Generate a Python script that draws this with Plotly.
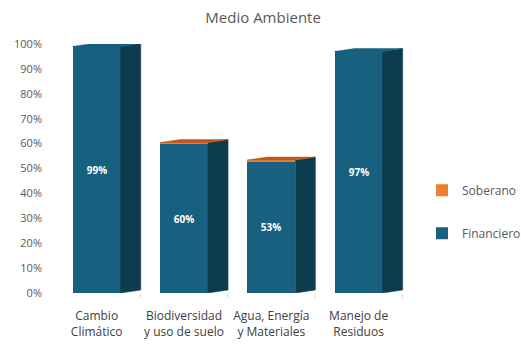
import plotly.graph_objects as go

categories = ["Cambio<br>Climático", "Biodiversidad<br>y uso de suelo", "Agua, Energía<br>y Materiales", "Manejo de<br>Residuos"]
financiero = [0.99, 0.60, 0.53, 0.97]
soberano = [0.0, 0.004, 0.004, 0.0]
y_ticks = [0, 0.1, 0.2, 0.3, 0.4, 0.5, 0.6, 0.7, 0.8, 0.9, 1.0]
y_tick_text = ["0%", "10%", "20%", "30%", "40%", "50%", "60%", "70%", "80%", "90%", "100%"]

FRONT = "#17607f"
SIDE = "#0e3c4f"
TOP_OR = "#c0561d"
LEG_OR = "#ed7d31"
W = 0.55      # bar width
DX = 0.23     # depth in x units
DY = 0.012    # depth in y units

xs = list(range(len(categories)))
fig = go.Figure()

# 3D side and top faces (derived from data)
for i, (f, s) in enumerate(zip(financiero, soberano)):
    tot = f + s
    x0, x1 = i - W / 2, i + W / 2
    fig.add_trace(go.Scatter(
        x=[x1, x1 + DX, x1 + DX, x1, x1], y=[0, DY, tot + DY, tot, 0],
        fill="toself", fillcolor=SIDE, line=dict(width=0.5, color=SIDE),
        mode="lines", showlegend=False, hoverinfo="skip"))
    topc = TOP_OR if s > 0 else FRONT
    fig.add_trace(go.Scatter(
        x=[x0, x0 + DX, x1 + DX, x1, x0], y=[tot, tot + DY, tot + DY, tot, tot],
        fill="toself", fillcolor=topc, line=dict(width=0.5, color=topc),
        mode="lines", showlegend=False, hoverinfo="skip"))

fig.add_trace(go.Bar(
    x=xs, y=financiero, width=W, name="Financiero", marker=dict(color=FRONT, line=dict(width=0)),
    text=[f"<b>{v:.0%}</b>" for v in financiero], textposition="inside", insidetextanchor="middle",
    textfont=dict(color="white", size=10, family="Open Sans"), legendgroup="f", legendrank=2))
fig.add_trace(go.Bar(
    x=xs, y=soberano, width=W, name="Soberano", marker=dict(color=LEG_OR, line=dict(width=0)),
    legendgroup="s", legendrank=1))

# baseline with boundary ticks
fig.add_shape(type="line", xref="x", yref="y", x0=-0.5, x1=3.6, y0=-0.004, y1=-0.004,
              line=dict(color="#d9d9d9", width=1))
for b in [i - 0.5 for i in range(len(categories) + 1)]:
    fig.add_shape(type="line", xref="x", yref="paper", x0=b, x1=b, y0=-0.004, y1=-0.02,
                  line=dict(color="#d9d9d9", width=1))

fig.update_layout(
    width=521, height=353,
    margin=dict(l=53, r=110, t=44, b=60, autoexpand=False),
    paper_bgcolor="white", plot_bgcolor="white",
    barmode="stack", bargap=0,
    font=dict(family="Open Sans", color="#595959"),
    title=dict(text="Medio Ambiente", x=0.505, xanchor="center", y=0.95, yanchor="middle",
               font=dict(size=15, color="#595959")),
    legend=dict(xref="container", yref="container", x=0.81, y=0.40, xanchor="left", yanchor="middle",
                traceorder="grouped", tracegroupgap=24, font=dict(size=12, color="#595959"),
                itemwidth=30),
    xaxis=dict(range=[-0.5, 3.6], tickvals=xs, ticktext=categories, showgrid=False,
               zeroline=False, showline=False, tickfont=dict(size=12, color="#404040"),
               ticks="", ticklabelstandoff=14, fixedrange=True),
    yaxis=dict(range=[0, 1.0], tickvals=y_ticks, ticktext=y_tick_text, showgrid=False,
               zeroline=False, showline=False, tickfont=dict(size=11, color="#595959"),
               ticklabelstandoff=10, fixedrange=True),
    showlegend=True,
)

fig.write_html("out.html")
